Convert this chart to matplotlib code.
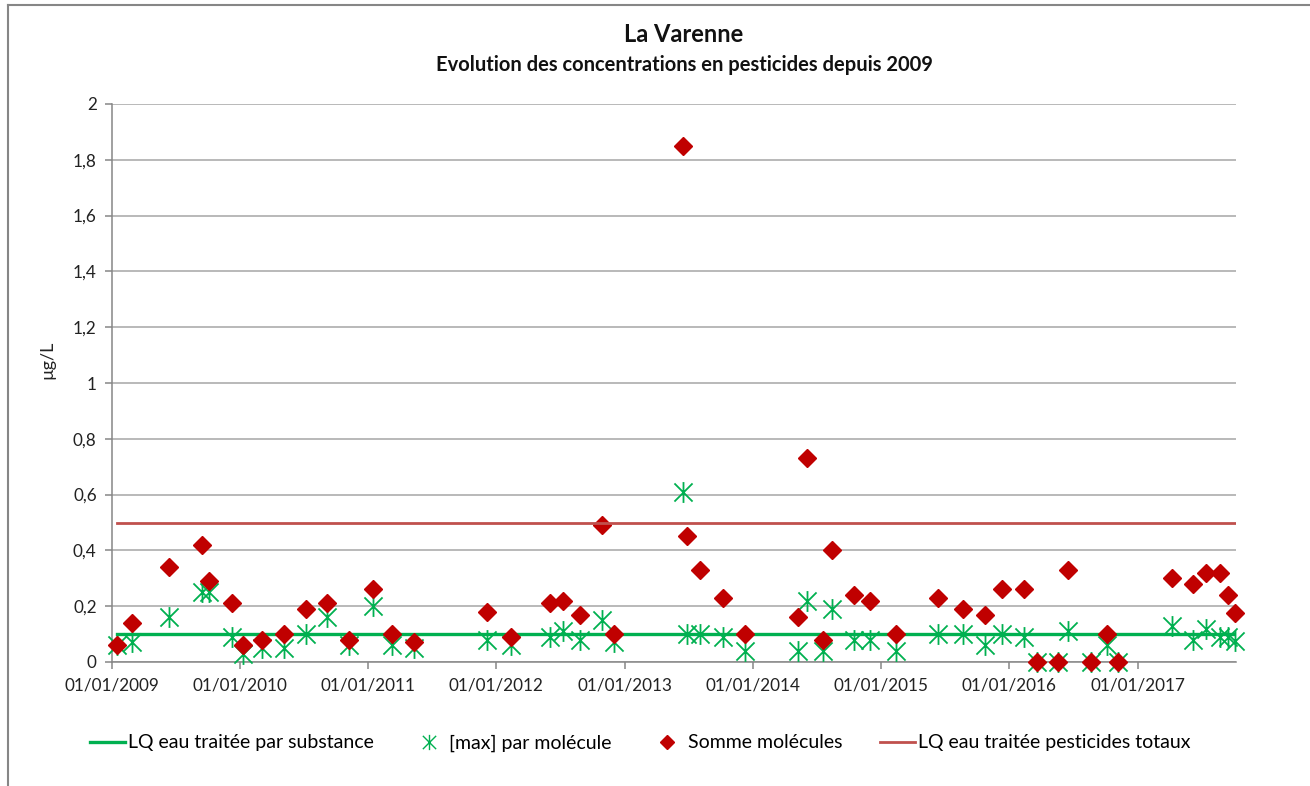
import matplotlib
matplotlib.use("Agg")
import matplotlib.pyplot as plt
import matplotlib.dates as mdates
from matplotlib.ticker import FuncFormatter, MultipleLocator
from matplotlib.lines import Line2D
from matplotlib.path import Path
import pandas as pd

# dates de prélèvement
dates = [
    "2009-01-15", "2009-02-27", "2009-06-12", "2009-09-15", "2009-10-04",
    "2009-12-09", "2010-01-09", "2010-03-05", "2010-05-06", "2010-07-08",
    "2010-09-06", "2010-11-07", "2011-01-15", "2011-03-10", "2011-05-12",
    "2011-12-05", "2012-02-11", "2012-06-01", "2012-07-08", "2012-08-26",
    "2012-10-28", "2012-12-01", "2013-06-15", "2013-06-27", "2013-08-03",
    "2013-10-07", "2013-12-09", "2014-05-09", "2014-06-04", "2014-07-19",
    "2014-08-14", "2014-10-16", "2014-11-30", "2015-02-12", "2015-06-12",
    "2015-08-22", "2015-10-24", "2015-12-12", "2016-02-12", "2016-03-20",
    "2016-05-19", "2016-06-17", "2016-08-21", "2016-10-06", "2016-11-06",
    "2017-04-09", "2017-06-08", "2017-07-15", "2017-08-24", "2017-09-16",
    "2017-10-06",
]

max_molecule = [
    0.06, 0.07, 0.16, 0.25, 0.25,
    0.09, 0.03, 0.05, 0.05, 0.10,
    0.16, 0.06, 0.20, 0.06, 0.05,
    0.08, 0.06, 0.09, 0.11, 0.08,
    0.15, 0.07, 0.61, 0.10, 0.10,
    0.09, 0.04, 0.04, 0.22, 0.04,
    0.19, 0.08, 0.08, 0.04, 0.10,
    0.10, 0.06, 0.10, 0.09, 0.0,
    0.0, 0.11, 0.0, 0.06, 0.0,
    0.13, 0.08, 0.12, 0.09, 0.09,
    0.075,
]

somme_molecules = [
    0.06, 0.14, 0.34, 0.42, 0.29,
    0.21, 0.06, 0.08, 0.10, 0.19,
    0.21, 0.08, 0.26, 0.10, 0.07,
    0.18, 0.09, 0.21, 0.22, 0.17,
    0.49, 0.10, 1.85, 0.45, 0.33,
    0.23, 0.10, 0.16, 0.73, 0.08,
    0.40, 0.24, 0.22, 0.10, 0.23,
    0.19, 0.17, 0.26, 0.26, 0.0,
    0.0, 0.33, 0.0, 0.10, 0.0,
    0.30, 0.28, 0.32, 0.32, 0.24,
    0.175,
]

lq_substance = 0.1
lq_total = 0.5

labels = [
    "LQ eau traitée par substance",
    "[max] par molécule",
    "Somme molécules",
    "LQ eau traitée pesticides totaux",
]

green = "#00B050"
red = "#C00000"
red_line = "#C0504D"
grid_col = "#A6A6A6"
axis_col = "#868686"

# étoile façon Excel : une croix + un trait vertical
star = Path([(-1, -1), (1, 1), (-1, 1), (1, -1), (0, -1.15), (0, 1.15)],
            [Path.MOVETO, Path.LINETO, Path.MOVETO, Path.LINETO, Path.MOVETO, Path.LINETO])

plt.rcParams["font.family"] = ["Lato", "DejaVu Sans"]

x = pd.to_datetime(dates)

fig = plt.figure(figsize=(13.1, 7.86), dpi=100)
ax = fig.add_axes([112 / 1310, 1 - 662 / 786, (1236 - 112) / 1310, (662 - 104) / 786])

ax.plot(x, [lq_substance] * len(x), color=green, lw=2.4, zorder=2)
ax.plot(x, max_molecule, linestyle="none", marker=star, ms=15, mew=1.3,
        color=green, zorder=3, clip_on=False)
ax.plot(x, somme_molecules, linestyle="none", marker="D", ms=9,
        color=red, mec=red, zorder=4, clip_on=False)
ax.plot(x, [lq_total] * len(x), color=red_line, lw=2.0, zorder=5)

ax.set_ylim(0, 2)
ax.set_xlim(pd.Timestamp("2009-01-01"), pd.Timestamp("2017-10-08"))
ax.yaxis.set_major_locator(MultipleLocator(0.2))
ax.yaxis.set_major_formatter(FuncFormatter(lambda v, p: f"{round(v, 1):g}".replace(".", ",")))
ax.xaxis.set_major_locator(mdates.YearLocator())
ax.xaxis.set_major_formatter(mdates.DateFormatter("%d/%m/%Y"))

ax.grid(axis="y", color=grid_col, lw=1.1)
ax.set_axisbelow(True)
for s in ["top", "right"]:
    ax.spines[s].set_visible(False)
for s in ["left", "bottom"]:
    ax.spines[s].set_color(axis_col)
    ax.spines[s].set_linewidth(1.1)
ax.tick_params(axis="both", colors=axis_col, length=5, width=1.1, labelsize=12.3,
               labelcolor="#222222")
ax.tick_params(axis="x", pad=6)
ax.tick_params(axis="y", pad=6)

# titre de l'axe des y
fig.text(47 / 1310, 1 - 360 / 786, "µg/L", rotation=90, ha="center", va="center",
         fontsize=13, color="#222222")

fig.text(684 / 1310, 1 - 35 / 786, "La Varenne", ha="center", va="center",
         fontsize=17, fontweight="bold", color="#111111")
fig.text(684 / 1310, 1 - 65 / 786,
         "Evolution des concentrations en pesticides depuis 2009",
         ha="center", va="center", fontsize=14.5, fontweight="bold", color="#111111")

handles = [
    Line2D([], [], color=green, lw=2.4),
    Line2D([], [], linestyle="none", marker=star, ms=11, mew=1.0, color=green),
    Line2D([], [], linestyle="none", marker="D", ms=7.5, color=red),
    Line2D([], [], color=red_line, lw=2.0),
]
fig.legend(handles, labels, loc="center", bbox_to_anchor=(640 / 1310, 1 - 743 / 786),
           ncol=4, frameon=False, fontsize=14, handlelength=1.8,
           handletextpad=0.15, columnspacing=1.95)

# cadre du graphique
fig.add_artist(Line2D([8 / 1310, 1], [1 - 5 / 786, 1 - 5 / 786],
                      transform=fig.transFigure, color=axis_col, lw=1.5))
fig.add_artist(Line2D([8 / 1310, 8 / 1310], [0, 1 - 5 / 786],
                      transform=fig.transFigure, color=axis_col, lw=1.5))

fig.savefig("out.png", dpi=100)
